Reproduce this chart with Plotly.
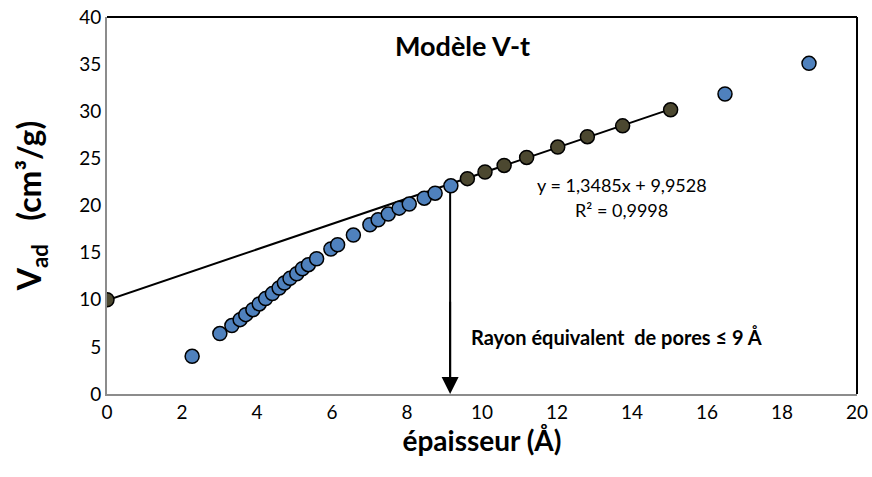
import plotly.graph_objects as go

# Blue points: experimental V-t data
t_exp = [2.27, 3.01, 3.33, 3.55, 3.70, 3.89, 4.06, 4.23, 4.41, 4.59, 4.73, 4.88,
         5.06, 5.21, 5.37, 5.59, 5.97, 6.15, 6.57, 7.01, 7.23, 7.50, 7.79, 8.06,
         8.46, 8.75, 9.17, 16.48, 18.72]
v_exp = [4.00, 6.41, 7.26, 7.89, 8.42, 8.95, 9.56, 10.12, 10.65, 11.25, 11.78, 12.27,
         12.76, 13.29, 13.72, 14.35, 15.38, 15.84, 16.86, 17.96, 18.49, 19.09, 19.72, 20.15,
         20.78, 21.31, 22.09, 31.83, 35.08]

# Olive points: linear-region points used for the fit (incl. intercept)
t_fit = [0.0, 9.61, 10.08, 10.59, 11.19, 12.02, 12.81, 13.75, 15.03]
v_fit = [10.0, 22.85, 23.55, 24.25, 25.1, 26.2, 27.3, 28.45, 30.15]

slope = 1.3485
intercept = 9.9528
t_line = [0.0, 15.03]
v_line = [slope * t + intercept for t in t_line]

t_pore = 9.15
v_pore_top = 21.9
font = "Lato, 'Open Sans', sans-serif"

fig = go.Figure()
fig.add_trace(go.Scatter(x=t_line, y=v_line, mode="lines",
                         line=dict(color="black", width=2), showlegend=False,
                         hoverinfo="skip"))
# arrow shaft (drawn beneath the markers)
fig.add_trace(go.Scatter(x=[t_pore, t_pore], y=[v_pore_top, 1.5], mode="lines",
                         line=dict(color="black", width=2), showlegend=False,
                         hoverinfo="skip"))
fig.add_trace(go.Scatter(x=t_exp, y=v_exp, mode="markers",
                         marker=dict(size=14, color="#4F81BD",
                                     line=dict(color="black", width=1.5)),
                         showlegend=False))
fig.add_trace(go.Scatter(x=t_fit, y=v_fit, mode="markers",
                         marker=dict(size=14, color="#4C4830",
                                     line=dict(color="black", width=1.5)),
                         showlegend=False))

fig.add_annotation(x=t_pore, y=0, ax=t_pore, ay=10, xref="x", yref="y",
                   axref="x", ayref="y", showarrow=True, arrowhead=2,
                   arrowsize=1.7, arrowwidth=2, arrowcolor="black", text=" ",
                   font=dict(size=1))

fig.add_annotation(x=9.47, y=37.0, text="<b>Modèle V-t</b>", showarrow=False,
                   font=dict(family=font, size=27, color="black"))
fig.add_annotation(x=13.73, y=22.2, text="y = 1,3485x + 9,9528", showarrow=False,
                   font=dict(family=font, size=18, color="black"))
fig.add_annotation(x=13.73, y=19.5, text="R² = 0,9998", showarrow=False,
                   font=dict(family=font, size=18, color="black"))
fig.add_annotation(x=13.59, y=6.0, text="<b>Rayon équivalent&nbsp; de pores ≤ 9 Å</b>",
                   showarrow=False, font=dict(family=font, size=20, color="black"))

# top and right frame lines (black)
fig.add_shape(type="line", xref="paper", yref="paper", x0=0, x1=1, y0=1, y1=1,
              line=dict(color="black", width=2))
fig.add_shape(type="line", xref="paper", yref="paper", x0=1, x1=1, y0=0, y1=1,
              line=dict(color="black", width=2))

fig.update_layout(
    width=872, height=477,
    margin=dict(l=107, r=15, t=17, b=83),
    plot_bgcolor="white", paper_bgcolor="white",
    font=dict(family=font, size=19, color="black"),
    xaxis=dict(range=[0, 20], tickvals=list(range(0, 21, 2)), showgrid=False,
               zeroline=False, showline=True, linecolor="#8C8C8C", linewidth=2,
               ticks="", tickfont=dict(size=19), automargin=False,
               title=dict(text="<b>épaisseur (Å)</b>", font=dict(size=28), standoff=4)),
    yaxis=dict(range=[0, 40], tickvals=list(range(0, 41, 5)), showgrid=False,
               zeroline=False, showline=True, linecolor="#8C8C8C", linewidth=2,
               ticks="", tickfont=dict(size=19), automargin=False,
               title=dict(text="<b>V<sub>ad</sub>&nbsp;&nbsp;&nbsp;(cm³/g)</b>",
                          font=dict(size=32), standoff=28)),
)

fig.write_html("out.html", config={"displayModeBar": False},
               post_script="document.body.style.margin='0px';")
